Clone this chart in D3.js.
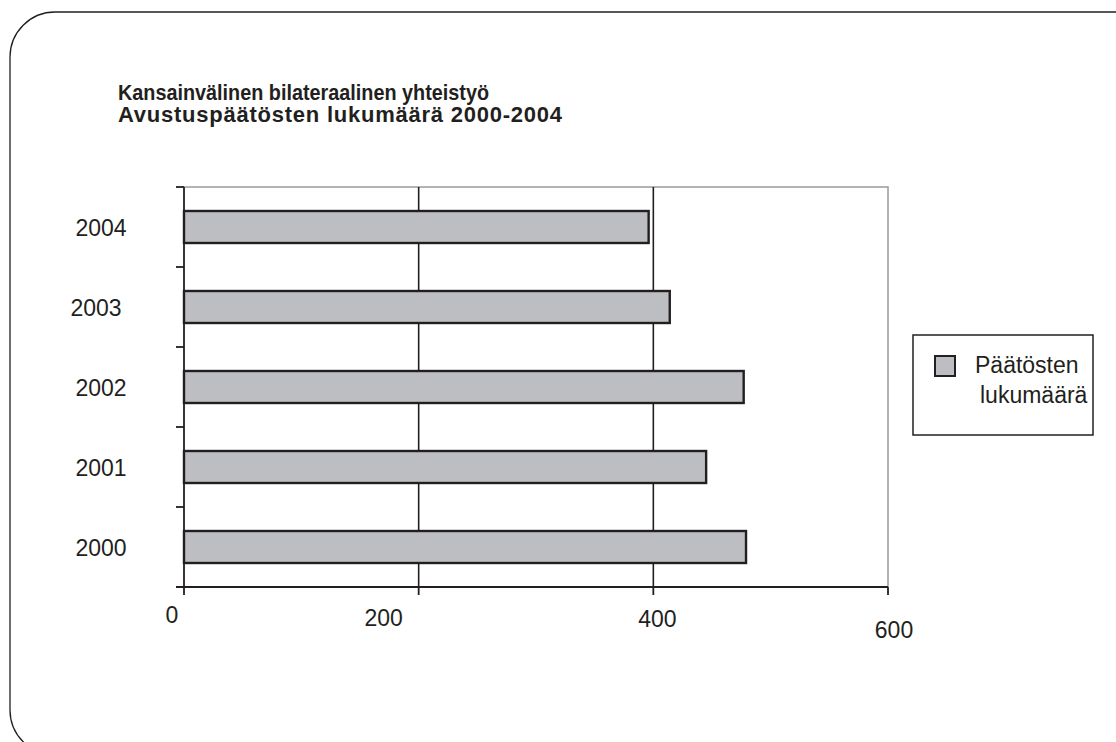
<!DOCTYPE html>
<html>
<head>
<meta charset="utf-8">
<script src="https://cdn.jsdelivr.net/npm/d3@7"></script>
<style>
  html, body { margin: 0; padding: 0; background: #fff; }
  svg { display: block; font-family: "Liberation Sans", Arial, sans-serif; }
</style>
</head>
<body>
<svg id="chart" width="1116" height="742"></svg>
<script>
// data
const years = ['2004', '2003', '2002', '2001', '2000'];
const counts = [396, 414, 477, 445, 479];
const xTicks = [0, 200, 400, 600];
const seriesName = ['Päätösten', 'lukumäärä'];
const titleLines = [
  'Kansainvälinen bilateraalinen yhteistyö',
  'Avustuspäätösten lukumäärä 2000-2004',
];

const INK = '#231f20';
const BAR = '#bdbec2';
const FS = 23;

const svg = d3.select('#chart');

// rounded page frame
svg.append('rect')
  .attr('x', 10).attr('y', 12)
  .attr('width', 1200).attr('height', 743)
  .attr('rx', 45).attr('ry', 45)
  .attr('fill', 'none')
  .attr('stroke', INK)
  .attr('stroke-width', 1.3);

// title (original face is narrower on i/l, wider on digits -> fit widths)
const titleWidth = [371, 444];
const titleAdjust = ['spacingAndGlyphs', 'spacing'];
svg.append('g')
  .selectAll('text')
  .data(titleLines)
  .join('text')
  .attr('x', 118)
  .attr('y', (d, i) => 100 + i * 22)
  .attr('font-size', 22).attr('font-weight', 700)
  .attr('fill', INK)
  .attr('textLength', (d, i) => titleWidth[i])
  .attr('lengthAdjust', (d, i) => titleAdjust[i])
  .text((d) => d);

// ---- plot area ----
const pL = 184, pR = 888, pT = 187, pB = 587;

const x = d3.scaleLinear().domain([0, 600]).range([pL, pR]);
const y = d3.scaleBand().domain(years).range([pT, pB]).paddingInner(0.6).paddingOuter(0.3);

// top / right border (grey)
svg.append('path')
  .attr('d', `M${pL},${pT}H${pR}V${pB}`)
  .attr('fill', 'none')
  .attr('stroke', '#9a9a9a')
  .attr('stroke-width', 1.5);

// vertical gridlines
svg.append('g')
  .selectAll('line')
  .data(xTicks.filter((t) => t > 0 && t < 600))
  .join('line')
  .attr('x1', (d) => x(d)).attr('x2', (d) => x(d))
  .attr('y1', pT).attr('y2', pB)
  .attr('stroke', INK)
  .attr('stroke-width', 1.6);

// bars
svg.append('g')
  .selectAll('rect')
  .data(years.map((yr, i) => ({ yr, v: counts[i] })))
  .join('rect')
  .attr('x', x(0))
  .attr('y', (d) => y(d.yr))
  .attr('width', (d) => x(d.v) - x(0))
  .attr('height', y.bandwidth())
  .attr('fill', BAR)
  .attr('stroke', INK)
  .attr('stroke-width', 2.4);

// y axis: ticks between bands
const yBounds = d3.range(years.length + 1).map((i) => pT + (i * (pB - pT)) / years.length);
const yAxis = svg.append('g').attr('stroke', INK).attr('stroke-width', 1.8);
yAxis.append('line')
  .attr('x1', pL).attr('x2', pL)
  .attr('y1', pT).attr('y2', pB);
yAxis.selectAll('line.tick')
  .data(yBounds)
  .join('line')
  .attr('class', 'tick')
  .attr('x1', pL - 8).attr('x2', pL)
  .attr('y1', (d) => d).attr('y2', (d) => d);

// year labels (scan shifts a little)
const yLabelDx = [0, -5, 0, 0, 0];
svg.append('g')
  .selectAll('text')
  .data(years)
  .join('text')
  .attr('x', (d, i) => 101 + yLabelDx[i])
  .attr('y', (d) => y(d) + y.bandwidth() / 2 + 9)
  .attr('text-anchor', 'middle')
  .attr('font-size', FS)
  .attr('fill', INK)
  .text((d) => d);

// x axis
const xAxis = svg.append('g').attr('stroke', INK).attr('stroke-width', 1.8);
xAxis.append('line')
  .attr('x1', pL - 8).attr('x2', pR)
  .attr('y1', pB).attr('y2', pB);
xAxis.selectAll('line.tick')
  .data(xTicks)
  .join('line')
  .attr('class', 'tick')
  .attr('x1', (d) => x(d)).attr('x2', (d) => x(d))
  .attr('y1', pB).attr('y2', pB + 8);

// x labels (uneven placement in the original)
const xLabelDx = [-12, -35, 4, 6];
const xLabelDy = [0, 3, 4, 15];
svg.append('g')
  .selectAll('text')
  .data(xTicks)
  .join('text')
  .attr('x', (d, i) => x(d) + xLabelDx[i])
  .attr('y', (d, i) => 623 + xLabelDy[i])
  .attr('text-anchor', 'middle')
  .attr('font-size', FS)
  .attr('fill', INK)
  .text((d) => d);

// legend
const lg = svg.append('g').attr('transform', 'translate(913,335)');
lg.append('rect')
  .attr('width', 180).attr('height', 100)
  .attr('fill', '#fff')
  .attr('stroke', INK)
  .attr('stroke-width', 1.5);
lg.append('rect')
  .attr('x', 22).attr('y', 21)
  .attr('width', 20).attr('height', 20)
  .attr('fill', BAR)
  .attr('stroke', INK)
  .attr('stroke-width', 2);
lg.append('text')
  .attr('font-size', FS)
  .attr('fill', INK)
  .selectAll('tspan')
  .data(seriesName)
  .join('tspan')
  .attr('x', (d, i) => (i ? 67 : 62))
  .attr('y', (d, i) => 38 + i * 30)
  .text((d) => d);
</script>
</body>
</html>
